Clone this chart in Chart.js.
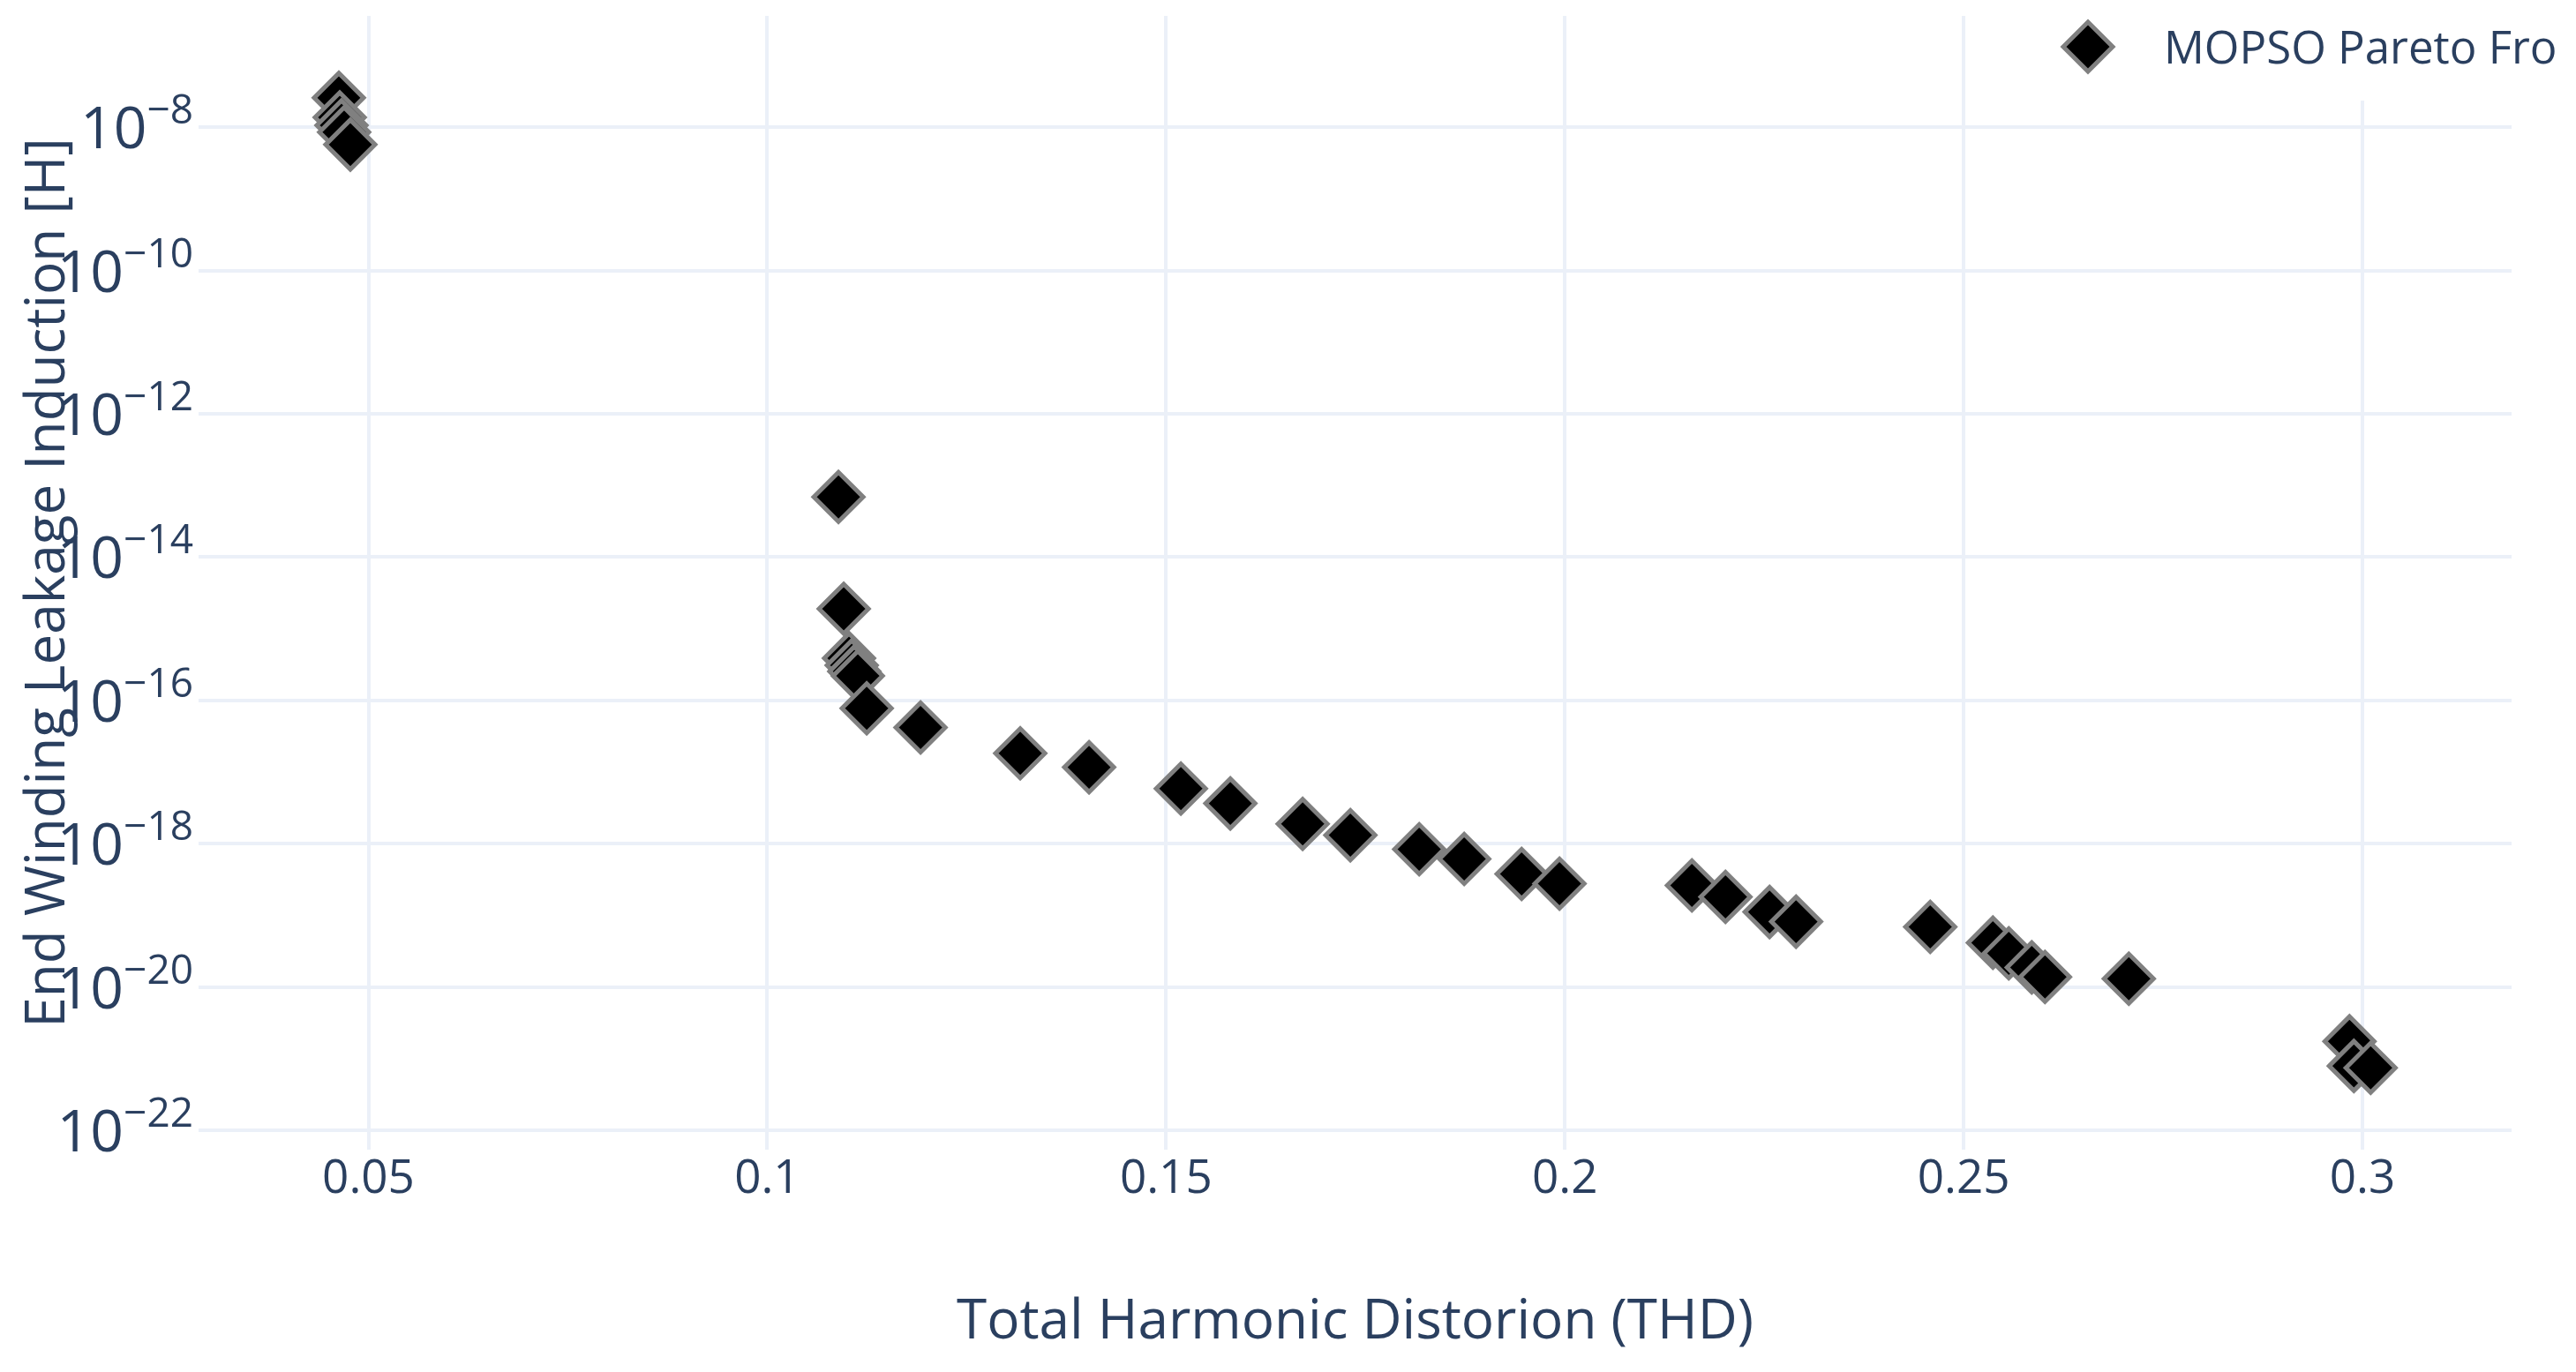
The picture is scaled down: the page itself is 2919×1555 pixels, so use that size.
<!DOCTYPE html>
<html>
<head>
<meta charset="utf-8">
<title>MOPSO Pareto Front</title>
<script src="https://cdn.jsdelivr.net/npm/chart.js@4.4.1/dist/chart.umd.min.js"></script>
<style>
  html, body { margin: 0; padding: 0; background: #fff; }
  canvas { display: block; }
</style>
</head>
<body>
<canvas id="paretoChart" width="2919" height="1555"></canvas>
<script>
/* ── Data ── */
const seriesName = 'MOPSO Pareto Fro';
const thdVals = [
  0.04629, 0.04640, 0.04662, 0.04695, 0.04773,
  0.10893, 0.10959, 0.11025, 0.11059, 0.11092, 0.11136, 0.11247,
  0.11922, 0.13172, 0.14035, 0.15186, 0.15806, 0.16713, 0.17311,
  0.18174, 0.18738, 0.19458, 0.19933, 0.21593, 0.22014, 0.22567,
  0.22899, 0.24581, 0.25367, 0.25566, 0.25854, 0.26020, 0.27071,
  0.29838, 0.29893, 0.30103
];
const leakVals = [
  2.56e-8, 1.37e-8, 1.06e-8, 8.5e-9, 5.7e-9,
  6.9e-14, 1.9e-15, 3.9e-16, 3.1e-16, 2.55e-16, 2.2e-16, 7.8e-17,
  4.2e-17, 1.83e-17, 1.17e-17, 5.9e-18, 3.66e-18, 1.9e-18, 1.32e-18,
  8.4e-19, 6.15e-19, 3.8e-19, 2.79e-19, 2.63e-19, 1.82e-19, 1.12e-19,
  8.2e-20, 6.95e-20, 4.18e-20, 2.97e-20, 1.89e-20, 1.39e-20, 1.31e-20,
  1.76e-21, 7.96e-22, 7.5e-22
];
const xTickVals   = [0.05, 0.1, 0.15, 0.2, 0.25, 0.3];
const xTickLabels = ['0.05', '0.1', '0.15', '0.2', '0.25', '0.3'];
const yTickVals   = [1e-22, 1e-20, 1e-18, 1e-16, 1e-14, 1e-12, 1e-10, 1e-8];
const yTickExps   = ['−22', '−20', '−18', '−16', '−14', '−12', '−10', '−8'];

/* ── Styling ── */
const TXT  = '#2a3f5f';
const GRID = '#EBF0F8';
const FONT = '"Open Sans", "DejaVu Sans", sans-serif';

/* ── y tick labels as 10 + superscript exponent ── */
const powerLabels = {
  id: 'powerLabels',
  afterDraw(chart) {
    const sc = chart.scales.y;
    const ctx = chart.ctx;
    const right = sc.right - 6;
    ctx.save();
    ctx.fillStyle = TXT;
    ctx.textAlign = 'right';
    ctx.textBaseline = 'alphabetic';
    sc.ticks.forEach((t, i) => {
      const py = sc.getPixelForValue(t.value);
      ctx.font = '46px ' + FONT;
      const exp = yTickExps[i];
      const ew = ctx.measureText(exp).width;
      ctx.fillText(exp, right, py - 4);
      ctx.font = '66px ' + FONT;
      ctx.fillText('10', right - ew, py + 24);
    });
    ctx.restore();
  }
};

/* ── Legend box (top right, white background over grid) ── */
const cornerLegend = {
  id: 'cornerLegend',
  afterDraw(chart) {
    const ctx = chart.ctx;
    const ds = chart.data.datasets[0];
    ctx.save();
    ctx.fillStyle = '#fff';
    ctx.fillRect(2320, 0, chart.width - 2320, 114);
    const cx = 2366, cy = 53, r = ds.pointRadius;
    ctx.beginPath();
    ctx.moveTo(cx, cy - r);
    ctx.lineTo(cx + r, cy);
    ctx.lineTo(cx, cy + r);
    ctx.lineTo(cx - r, cy);
    ctx.closePath();
    ctx.fillStyle = ds.pointBackgroundColor;
    ctx.fill();
    ctx.lineWidth = ds.pointBorderWidth;
    ctx.strokeStyle = ds.pointBorderColor;
    ctx.lineJoin = 'miter';
    ctx.stroke();
    ctx.fillStyle = TXT;
    ctx.font = '51px ' + FONT;
    ctx.textAlign = 'left';
    ctx.textBaseline = 'alphabetic';
    ctx.fillText(ds.label, 2452, 72);
    ctx.restore();
  }
};

new Chart(document.getElementById('paretoChart'), {
  type: 'scatter',
  data: {
    datasets: [{
      label: seriesName,
      data: thdVals.map((x, i) => ({x, y: leakVals[i]})),
      pointStyle: 'rectRot',
      pointRadius: 28,
      pointHoverRadius: 28,
      pointBorderWidth: 5,
      pointBackgroundColor: '#000000',
      pointBorderColor: '#808080',
      clip: false
    }]
  },
  options: {
    responsive: false,
    devicePixelRatio: 1,
    animation: false,
    layout: { autoPadding: false, padding: { left: 0, right: 73, top: 18, bottom: 0 } },
    plugins: {
      legend: { display: false },
      tooltip: { enabled: false }
    },
    scales: {
      x: {
        type: 'linear',
        min: 0.0287,
        max: 0.3187,
        afterBuildTicks: s => { s.ticks = xTickVals.map(v => ({value: v})); },
        ticks: {
          callback: (v, i) => xTickLabels[i],
          color: TXT,
          font: { family: FONT, size: 53 },
          padding: 2,
          maxRotation: 0
        },
        grid: { color: GRID, lineWidth: 4, drawTicks: false },
        border: { display: false },
        title: {
          display: true,
          text: 'Total Harmonic Distorion (THD)',
          color: TXT,
          font: { family: FONT, size: 62 },
          padding: { top: 92, bottom: 18 }
        }
      },
      y: {
        type: 'logarithmic',
        min: 5.41e-23,
        max: 3.56e-7,
        afterBuildTicks: s => { s.ticks = yTickVals.map(v => ({value: v})); },
        ticks: { display: false },
        grid: { color: GRID, lineWidth: 4, drawTicks: false },
        border: { display: false },
        title: {
          display: true,
          text: 'End Winding Leakage Induction [H]',
          color: TXT,
          font: { family: FONT, size: 62 },
          padding: { top: 18, bottom: 132.6 }
        }
      }
    }
  },
  plugins: [powerLabels, cornerLegend]
});
</script>
</body>
</html>
